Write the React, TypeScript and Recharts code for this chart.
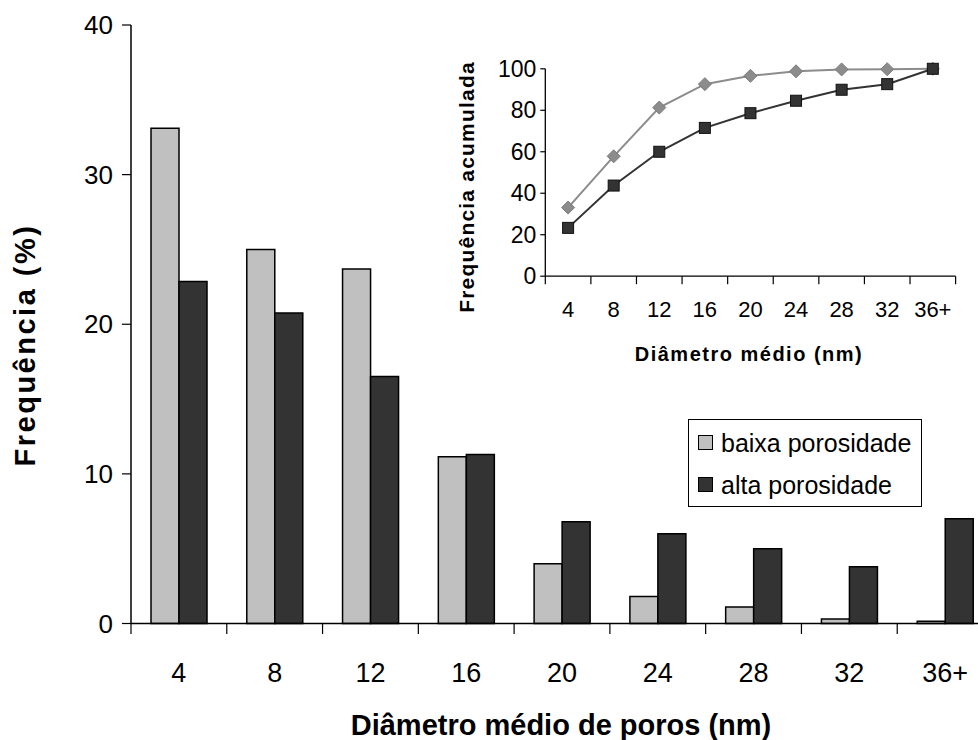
import React from 'react';
import { BarChart, Bar, XAxis, YAxis, Legend, LineChart, Line } from 'recharts';

const categories = ['4', '8', '12', '16', '20', '24', '28', '32', '36+'];
const baixaPorosidade = [33.1, 25.0, 23.7, 11.15, 4.0, 1.8, 1.1, 0.3, 0.15];
const altaPorosidade = [22.85, 20.75, 16.5, 11.3, 6.8, 6.0, 5.0, 3.8, 7.0];
const baixaAcumulada = [33.1, 57.8, 81.3, 92.6, 96.6, 98.8, 99.7, 99.8, 100];
const altaAcumulada = [23.3, 43.7, 60.0, 71.5, 78.6, 84.6, 89.9, 92.6, 100];
const mainYTicks = [0, 10, 20, 30, 40];
const insetYTicks = [0, 20, 40, 60, 80, 100];

const seriesNames = ['baixa porosidade', 'alta porosidade'];

const FONT = '"Liberation Sans", Arial, Helvetica, sans-serif';

const mainData = categories.map((c, i) => ({ cat: c, baixa: baixaPorosidade[i], alta: altaPorosidade[i] }));
const insetData = categories.map((c, i) => ({ cat: c, baixaAc: baixaAcumulada[i], altaAc: altaAcumulada[i] }));

function makeBandTick(halfBand: number, tickLen: number, textDy: number, fontSize: number, count: number) {
  return (props: any) => {
    const { x, y, payload, index } = props;
    return (
      <g>
        <line x1={x - halfBand} y1={y} x2={x - halfBand} y2={y + tickLen} stroke="#000" strokeWidth={1.2} />
        {index === count - 1 ? (
          <line x1={x + halfBand} y1={y} x2={x + halfBand} y2={y + tickLen} stroke="#000" strokeWidth={1.2} />
        ) : null}
        <text x={x} y={y + textDy} textAnchor="middle" fontSize={fontSize} fontFamily={FONT} fill="#000">
          {payload.value}
        </text>
      </g>
    );
  };
}

const MainXTick = makeBandTick(862 / 18, 10.5, 58.2, 27, categories.length);
const InsetXTick = makeBandTick(410.3 / 18, 8, 40.8, 22, categories.length);

const MainXTitle = () => (
  <text x={561} y={735} textAnchor="middle" fontSize={29} fontWeight="bold" fontFamily={FONT} fill="#000">
    Diâmetro médio de poros (nm)
  </text>
);

const MainYTitle = () => (
  <text x={35} y={345} transform="rotate(-90 35 345)" textAnchor="middle" fontSize={29} fontWeight="bold" fontFamily={FONT} letterSpacing={2.5} fill="#000">
    Frequência (%)
  </text>
);

const InsetXTitle = () => (
  <text x={309} y={321} textAnchor="middle" fontSize={20} fontWeight="bold" fontFamily={FONT} letterSpacing={1.5} fill="#000">
    Diâmetro médio (nm)
  </text>
);

const InsetYTitle = () => (
  <text x={34} y={147} transform="rotate(-90 34 147)" textAnchor="middle" fontSize={21} fontWeight="bold" fontFamily={FONT} letterSpacing={1.2} fill="#000">
    Frequência acumulada
  </text>
);

const Diamond = (props: any) => {
  const { cx, cy } = props;
  if (cx == null || cy == null) return <g />;
  const r = 6.5;
  return (
    <polygon
      points={`${cx},${cy - r} ${cx + r},${cy} ${cx},${cy + r} ${cx - r},${cy}`}
      fill="#8c8c8c"
      stroke="#7a7a7a"
      strokeWidth={1}
    />
  );
};

const Square = (props: any) => {
  const { cx, cy } = props;
  if (cx == null || cy == null) return <g />;
  const s = 11;
  return <rect x={cx - s / 2} y={cy - s / 2} width={s} height={s} fill="#333333" stroke="#111" strokeWidth={1} />;
};

const LegendContent = (props: any) => {
  const payload = [...(props.payload || [])].sort(
    (a: any, b: any) => seriesNames.indexOf(a.value) - seriesNames.indexOf(b.value)
  );
  return (
    <div
      style={{
        width: 234,
        height: 88,
        boxSizing: 'border-box',
        border: '1px solid #000',
        background: '#fff',
        fontFamily: FONT,
        fontSize: 25,
        color: '#000',
        position: 'relative',
      }}
    >
      {payload.map((entry: any, i: number) => (
        <div
          key={i}
          style={{ position: 'absolute', left: 9, top: 22.7 + i * 42 - 15, height: 30, display: 'flex', alignItems: 'center', whiteSpace: 'nowrap' }}
        >
          <span
            style={{
              display: 'inline-block',
              width: 15,
              height: 15,
              boxSizing: 'border-box',
              border: '1.5px solid #000',
              background: entry.color,
              marginRight: 8,
            }}
          />
          <span style={{ lineHeight: '30px' }}>{entry.value}</span>
        </div>
      ))}
    </div>
  );
};

export default function App() {
  return (
    <div style={{ position: 'absolute', left: 0, top: 0, width: 978, height: 740, overflow: 'hidden', background: '#fff' }}>
      <div style={{ position: 'absolute', left: 0, top: 0 }}>
        <BarChart
          width={1000}
          height={740}
          data={mainData}
          margin={{ top: 25, right: 7, bottom: 0, left: 0 }}
          barGap={0}
          barSize={28}
        >
          <XAxis
            xAxisId="top"
            orientation="top"
            dataKey="cat"
            height={0}
            axisLine={{ stroke: '#808080', strokeWidth: 1.5 }}
            tick={false}
            tickLine={false}
          />
          <XAxis
            dataKey="cat"
            height={116.5}
            interval={0}
            tickSize={0}
            tickMargin={0}
            tickLine={false}
            axisLine={{ stroke: '#000', strokeWidth: 1.5 }}
            tick={MainXTick}
            label={MainXTitle}
          />
          <YAxis
            width={131}
            domain={[0, 40]}
            ticks={mainYTicks}
            interval={0}
            tickSize={9}
            tickMargin={9}
            axisLine={{ stroke: '#000', strokeWidth: 1.5 }}
            tickLine={{ stroke: '#000', strokeWidth: 1.2 }}
            tick={{ fill: '#000', fontSize: 26, fontFamily: FONT }}
            label={MainYTitle}
          />
          <Legend
            layout="vertical"
            align="center"
            verticalAlign="middle"
            content={LegendContent}
            wrapperStyle={{ position: 'absolute', left: 688, top: 419, width: 234, height: 88 }}
          />
          <Bar dataKey="baixa" name={seriesNames[0]} fill="#c0c0c0" stroke="#000" strokeWidth={1.5} isAnimationActive={false} />
          <Bar dataKey="alta" name={seriesNames[1]} fill="#333333" stroke="#000" strokeWidth={1.5} isAnimationActive={false} />
        </BarChart>
      </div>
      <div style={{ position: 'absolute', left: 440, top: 40 }}>
        <LineChart width={530} height={340} data={insetData} margin={{ top: 28.8, right: 14.4, bottom: 0, left: 0 }}>
          <XAxis
            xAxisId="top"
            orientation="top"
            dataKey="cat"
            scale="band"
            height={0}
            axisLine={{ stroke: '#808080', strokeWidth: 1.5 }}
            tick={false}
            tickLine={false}
          />
          <XAxis
            dataKey="cat"
            scale="band"
            height={103.8}
            interval={0}
            tickSize={0}
            tickMargin={0}
            tickLine={false}
            axisLine={{ stroke: '#000', strokeWidth: 1.3 }}
            tick={InsetXTick}
            label={InsetXTitle}
          />
          <YAxis
            width={105.3}
            domain={[0, 100]}
            ticks={insetYTicks}
            interval={0}
            tickSize={5}
            tickMargin={4}
            axisLine={{ stroke: '#000', strokeWidth: 1.3 }}
            tickLine={{ stroke: '#000', strokeWidth: 1.2 }}
            tick={{ fill: '#000', fontSize: 23, fontFamily: FONT }}
            label={InsetYTitle}
          />
          <YAxis
            yAxisId="right"
            orientation="right"
            width={0}
            domain={[0, 100]}
            axisLine={{ stroke: '#808080', strokeWidth: 1.5 }}
            tick={false}
            tickLine={false}
          />
          <Line dataKey="baixaAc" name={seriesNames[0]} stroke="#8c8c8c" strokeWidth={2} dot={Diamond} isAnimationActive={false} />
          <Line dataKey="altaAc" name={seriesNames[1]} stroke="#333333" strokeWidth={2} dot={Square} isAnimationActive={false} />
        </LineChart>
      </div>
    </div>
  );
}
